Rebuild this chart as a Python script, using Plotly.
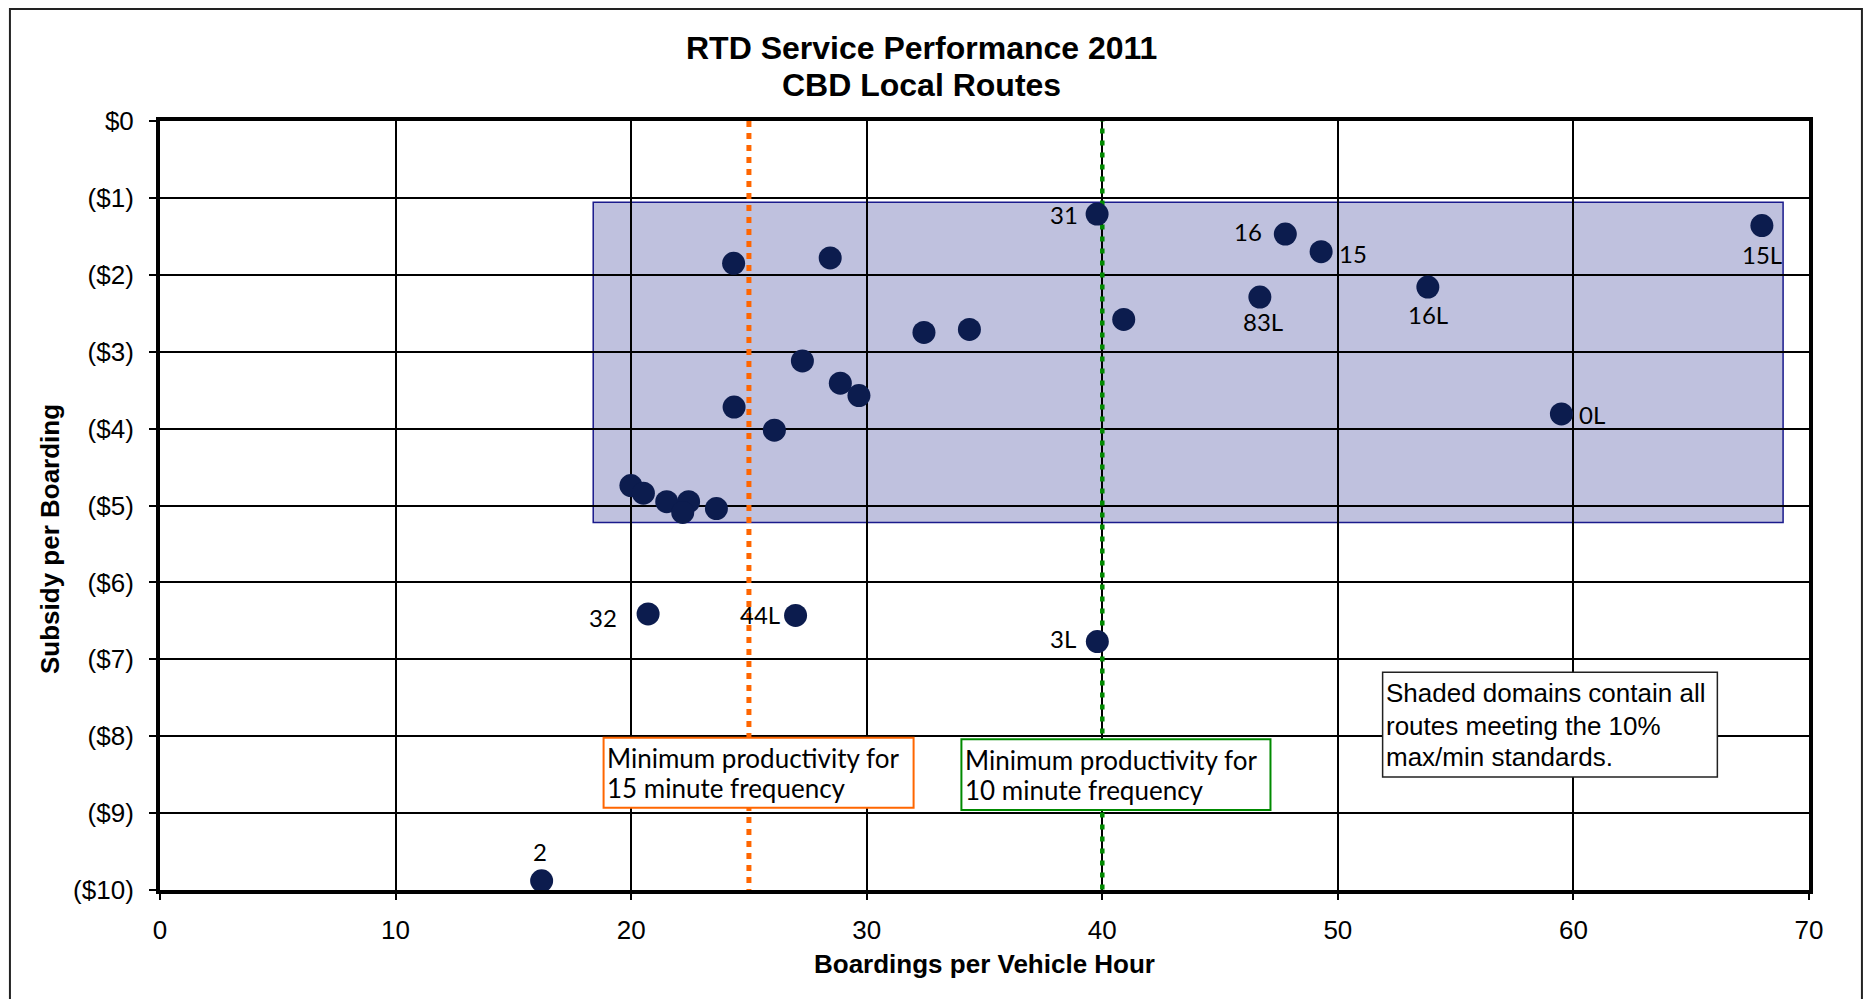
import plotly.graph_objects as go

# ---- data ----
routes = ["31", "16", "15", "15L", "83L", "16L", "0L", "32", "44L", "3L", "2",
          "", "", "", "", "", "", "", "", "", "", "", "", "", "", "", ""]
boardings_per_hour = [39.78, 47.77, 49.29, 68.0, 46.69, 53.82, 59.49, 20.72, 26.98, 39.79, 16.2,
                      40.91, 24.35, 28.45, 32.43, 34.36, 27.27, 28.88, 29.67, 24.37, 26.08,
                      19.99, 20.52, 21.51, 22.44, 22.19, 23.62]
subsidy_per_boarding = [-1.21, -1.47, -1.70, -1.36, -2.29, -2.16, -3.81, -6.41, -6.43, -6.77, -9.88,
                        -2.58, -1.85, -1.78, -2.75, -2.71, -3.12, -3.41, -3.57, -3.72, -4.02,
                        -4.74, -4.84, -4.95, -4.95, -5.09, -5.04]

y_tick_vals = [0, -1, -2, -3, -4, -5, -6, -7, -8, -9, -10]
y_tick_text = ["$0", "($1)", "($2)", "($3)", "($4)", "($5)", "($6)", "($7)", "($8)", "($9)", "($10)"]
x_tick_vals = [0, 10, 20, 30, 40, 50, 60, 70]

min_prod_15 = 25
min_prod_10 = 40
domain_x = [18.39, 68.9]
domain_y = [-1.057, -5.22]

title_lines = ["RTD Service Performance 2011", "CBD Local Routes"]
x_title = "Boardings per Vehicle Hour"
y_title = "Subsidy per Boarding"
note_15_lines = ["Minimum productivity for", "15 minute frequency"]
note_10_lines = ["Minimum productivity for", "10 minute frequency"]
note_domain_lines = ["Shaded domains contain all", "routes meeting the 10%", "max/min standards."]

# label placement style, keyed by label: (xanchor, yanchor, xshift, yshift)
label_style = {
    "31": ("right", "middle", -18, 0),
    "16": ("right", "middle", -22, 3),
    "15": ("left", "middle", 17, -2),
    "15L": ("center", "middle", 0, -29),
    "83L": ("center", "middle", 3, -24),
    "16L": ("center", "middle", 0, -27),
    "0L": ("left", "middle", 17, -1),
    "32": ("right", "middle", -30, -4),
    "44L": ("right", "middle", -15, 1),
    "3L": ("right", "middle", -20, 3),
    "2": ("center", "middle", -2, 29),
}

ARIAL = "Arial, Liberation Sans, sans-serif"
CAL = "Lato, Carlito, sans-serif"

fig = go.Figure()

# minimum-productivity lines
fig.add_trace(go.Scatter(x=[min_prod_15, min_prod_15], y=[0, -10], mode="lines",
                         line=dict(color="#ff6600", width=5, dash="6px,6px"),
                         hoverinfo="skip", showlegend=False))
fig.add_trace(go.Scatter(x=[min_prod_10, min_prod_10], y=[0.06, -10], mode="lines",
                         line=dict(color="#008a00", width=4.5, dash="5px,7px"),
                         hoverinfo="skip", showlegend=False, cliponaxis=False))

fig.add_trace(go.Scatter(
    x=boardings_per_hour, y=subsidy_per_boarding, mode="markers",
    marker=dict(size=23, color="#0c1c4e", line=dict(width=0)),
    showlegend=False, cliponaxis=False))

shapes = [
    dict(type="rect", xref="x", yref="y", x0=domain_x[0], x1=domain_x[1],
         y0=domain_y[0], y1=domain_y[1], fillcolor="#bfc1de",
         line=dict(color="#1a1a8c", width=1.5), layer="below"),
    dict(type="rect", xref="x", yref="y", x0=18.83, x1=31.99, y0=-8.02, y1=-8.93,
         fillcolor="white", line=dict(color="#ff6600", width=2), layer="above"),
    dict(type="rect", xref="x", yref="y", x0=34.02, x1=47.14, y0=-8.04, y1=-8.96,
         fillcolor="white", line=dict(color="#008a00", width=2), layer="above"),
    dict(type="rect", xref="x", yref="y", x0=51.90, x1=66.11, y0=-7.17, y1=-8.53,
         fillcolor="white", line=dict(color="#222222", width=1.5), layer="above"),
    # outer chart border
    dict(type="rect", xref="paper", yref="paper", x0=-0.0910, x1=1.0321,
         y0=-0.16, y1=1.1456, fillcolor="rgba(0,0,0,0)",
         line=dict(color="#222222", width=2), layer="above"),
]

annotations = []

# point labels
for r, bx, sy in zip(routes, boardings_per_hour, subsidy_per_boarding):
    if not r:
        continue
    xa, ya, xs, ys = label_style[r]
    annotations.append(dict(text=r, x=bx, y=sy, xref="x", yref="y", xanchor=xa, yanchor=ya,
                            xshift=xs, yshift=ys, showarrow=False, borderpad=0,
                            font=dict(family=CAL, size=24, color="black")))

# notes
for line, yv in zip(note_15_lines, [-8.287, -8.677]):
    annotations.append(dict(text=line, x=18.92, y=yv, xref="x", yref="y", xanchor="left",
                            yanchor="middle", showarrow=False, borderpad=0,
                            font=dict(family=CAL, size=26, color="black")))
for line, yv in zip(note_10_lines, [-8.31, -8.70]):
    annotations.append(dict(text=line, x=34.13, y=yv, xref="x", yref="y", xanchor="left",
                            yanchor="middle", showarrow=False, borderpad=0,
                            font=dict(family=CAL, size=26, color="black")))
for line, yv in zip(note_domain_lines, [-7.442, -7.868, -8.267]):
    annotations.append(dict(text=line, x=51.99, y=yv, xref="x", yref="y", xanchor="left",
                            yanchor="middle", showarrow=False, borderpad=0,
                            font=dict(family=ARIAL, size=26, color="black")))

# titles
annotations.append(dict(text="<b>" + title_lines[0] + "</b>", x=0.4615, y=1.0949,
                        xref="paper", yref="paper", xanchor="center", yanchor="middle",
                        showarrow=False, font=dict(family=ARIAL, size=32, color="black")))
annotations.append(dict(text="<b>" + title_lines[1] + "</b>", x=0.4615, y=1.0468,
                        xref="paper", yref="paper", xanchor="center", yanchor="middle",
                        showarrow=False, font=dict(family=ARIAL, size=32, color="black")))
annotations.append(dict(text="<b>" + x_title + "</b>", x=0.5, y=-0.0962, xref="paper", yref="paper",
                        xanchor="center", yanchor="middle", showarrow=False,
                        font=dict(family=ARIAL, size=26, color="black")))
annotations.append(dict(text="<b>" + y_title + "</b>", x=-0.0667, y=0.4564, xref="paper",
                        yref="paper", xanchor="center", yanchor="middle", textangle=-90,
                        showarrow=False, font=dict(family=ARIAL, size=26, color="black")))

fig.update_layout(
    width=1872, height=999,
    margin=dict(l=152, r=71, t=113, b=117),
    paper_bgcolor="white", plot_bgcolor="white",
    shapes=shapes, annotations=annotations,
    xaxis=dict(range=[0, 70], tickvals=x_tick_vals, showgrid=True, gridcolor="black",
               gridwidth=1.5, showline=True, linecolor="black", linewidth=4, mirror=True,
               ticks="outside", ticklen=6, tickwidth=1.5, tickcolor="black",
               ticklabelstandoff=8, zeroline=False,
               tickfont=dict(family=ARIAL, size=26, color="black")),
    yaxis=dict(range=[-10, 0], tickvals=y_tick_vals, ticktext=y_tick_text, showgrid=True,
               gridcolor="black", gridwidth=1.5, showline=True, linecolor="black", linewidth=4,
               mirror=True, ticks="outside", ticklen=7, tickwidth=1.5, tickcolor="black",
               ticklabelstandoff=10, zeroline=False,
               tickfont=dict(family=ARIAL, size=26, color="black")),
)

fig.write_html("out.html")
